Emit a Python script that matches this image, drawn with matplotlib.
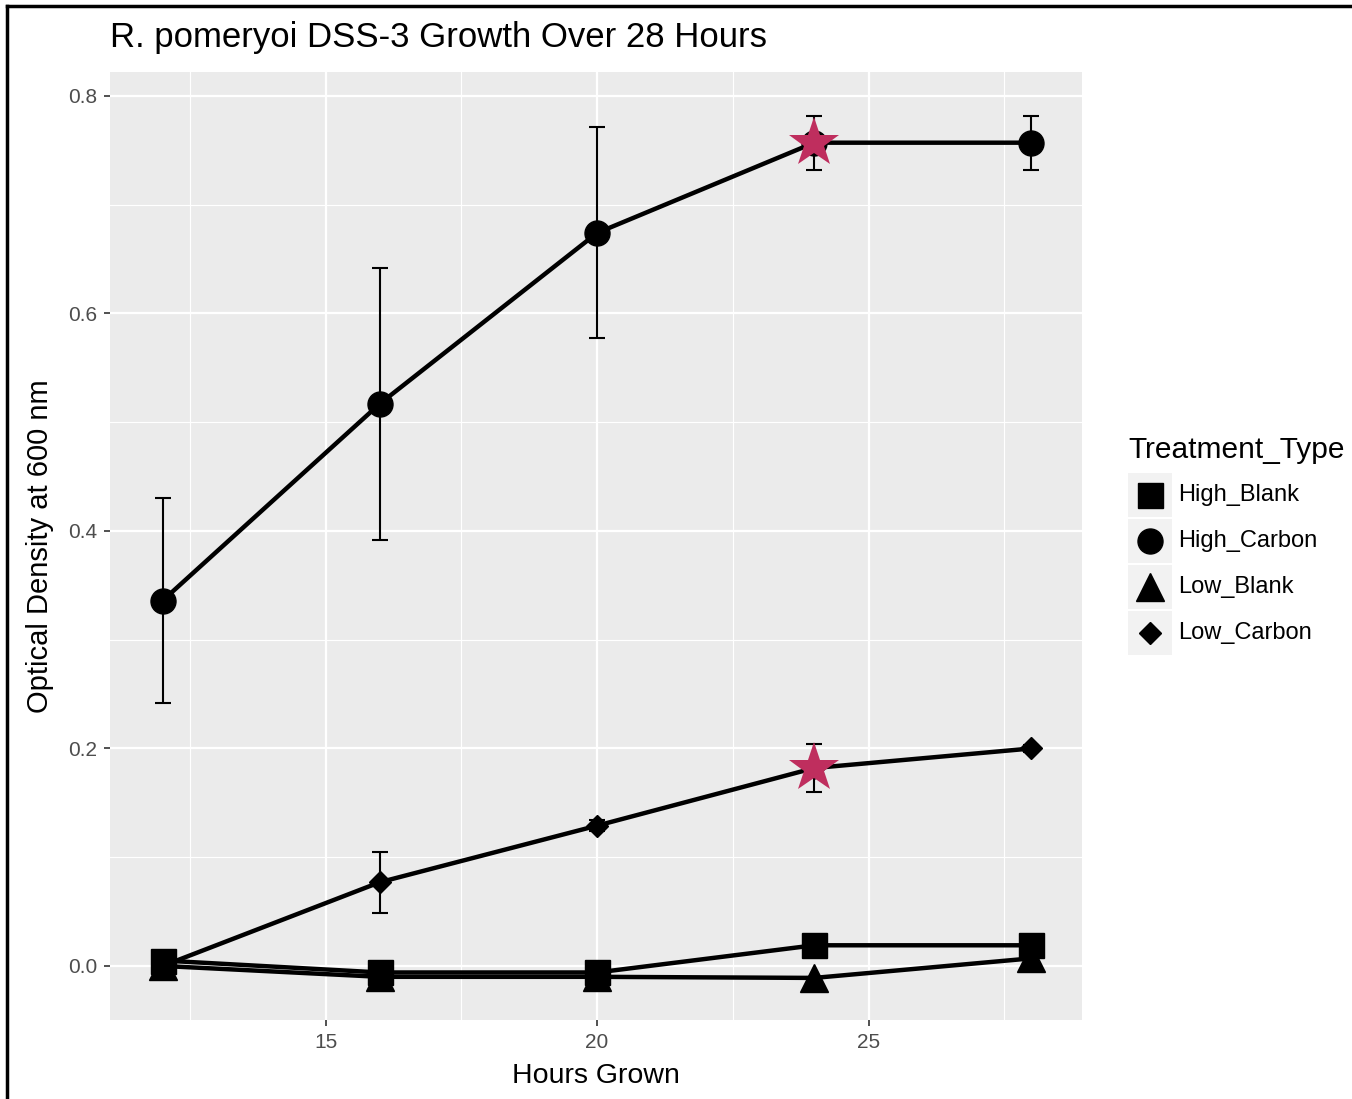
import matplotlib
matplotlib.use("Agg")
import matplotlib.pyplot as plt
from matplotlib.lines import Line2D
from matplotlib.patches import Rectangle
import numpy as np

plt.rcParams['font.family'] = ['Liberation Sans', 'DejaVu Sans']

# data
hours = [12, 16, 20, 24, 28]
treatments = ['High_Blank', 'High_Carbon', 'Low_Blank', 'Low_Carbon']
od = {
    'High_Blank':  [0.005, -0.006, -0.006, 0.019, 0.019],
    'High_Carbon': [0.336, 0.517, 0.674, 0.757, 0.757],
    'Low_Blank':   [0.000, -0.010, -0.010, -0.011, 0.007],
    'Low_Carbon':  [0.000, 0.077, 0.129, 0.182, 0.200],
}
err = {
    'High_Blank':  [0.002, 0.002, 0.002, 0.002, 0.002],
    'High_Carbon': [0.094, 0.125, 0.097, 0.025, 0.025],
    'Low_Blank':   [0.001, 0.001, 0.001, 0.001, 0.001],
    'Low_Carbon':  [0.001, 0.028, 0.005, 0.022, 0.003],
}
# significant points (starred)
star_x = [24, 24]
star_y = [0.757, 0.182]

markers = {'High_Blank': ('s', 18), 'High_Carbon': ('o', 18),
           'Low_Blank': ('^', 20), 'Low_Carbon': ('D', 11)}

W, H = 1352, 1099
fig = plt.figure(figsize=(W / 100, H / 100), dpi=100)

def fx(p):
    return p / W

def fy(p):
    return 1 - p / H

ax = fig.add_axes([fx(110), fy(1020), fx(1082) - fx(110), fy(72) - fy(1020)])
ax.set_facecolor('#EBEBEB')
for s in ax.spines.values():
    s.set_visible(False)

ax.set_xlim(11.03, 28.93)
ax.set_ylim(-0.0497, 0.822)
ax.set_xticks([15, 20, 25])
ax.set_xticks([12.5, 17.5, 22.5, 27.5], minor=True)
ax.set_yticks([0.0, 0.2, 0.4, 0.6, 0.8])
ax.set_yticklabels(['0.0', '0.2', '0.4', '0.6', '0.8'])
ax.set_yticks([0.1, 0.3, 0.5, 0.7], minor=True)
ax.grid(which='major', color='white', lw=1.6)
ax.grid(which='minor', color='white', lw=0.8)
ax.set_axisbelow(True)
ax.tick_params(which='major', length=4, width=1.2, color='#333333',
               labelcolor='#4D4D4D', labelsize=15, pad=5)
ax.tick_params(which='minor', length=0)

for t in treatments:
    ax.errorbar(hours, od[t], yerr=err[t], fmt='none', ecolor='black',
                elinewidth=1.5, capsize=6, capthick=1.5, zorder=3)
for t in treatments:
    m, ms = markers[t]
    ax.plot(hours, od[t], color='black', lw=3.2, marker=m, ms=ms,
            zorder=4, solid_joinstyle='round')

ax.plot(star_x, star_y, ls='none', marker='*', ms=38, color='#BF2E5E',
        markeredgewidth=0, zorder=5)

ax.set_xlabel('Hours Grown', fontsize=20.5, color='black', labelpad=8)
ax.set_ylabel('Optical Density at 600 nm', fontsize=21, color='black', labelpad=10)
fig.text(fx(110), fy(37), 'R. pomeryoi DSS-3 Growth Over 28 Hours',
         fontsize=25, ha='left', va='center')

# legend
fig.text(fx(1128), fy(450), 'Treatment_Type', fontsize=21.5, ha='left', va='center')
row_y = [495, 541, 587, 633]
for t, yy in zip(treatments, row_y):
    fig.add_artist(Rectangle((fx(1128), fy(yy + 22)), fx(44), fy(yy - 22) - fy(yy + 22),
                             transform=fig.transFigure, facecolor='#F2F2F2',
                             edgecolor='none'))
    m, ms = markers[t]
    fig.add_artist(Line2D([fx(1150)], [fy(yy)], transform=fig.transFigure,
                          marker=m, ms=ms, color='black', ls='none'))
    fig.text(fx(1178), fy(yy), t, fontsize=17, ha='left', va='center', color='black')

# screenshot frame (top and left)
fig.add_artist(Line2D([fx(7), fx(W)], [fy(6), fy(6)], transform=fig.transFigure,
                      color='black', lw=2.5))
fig.add_artist(Line2D([fx(7), fx(7)], [fy(6), fy(H)], transform=fig.transFigure,
                      color='black', lw=2.5))

fig.savefig('out.png', dpi=100)
